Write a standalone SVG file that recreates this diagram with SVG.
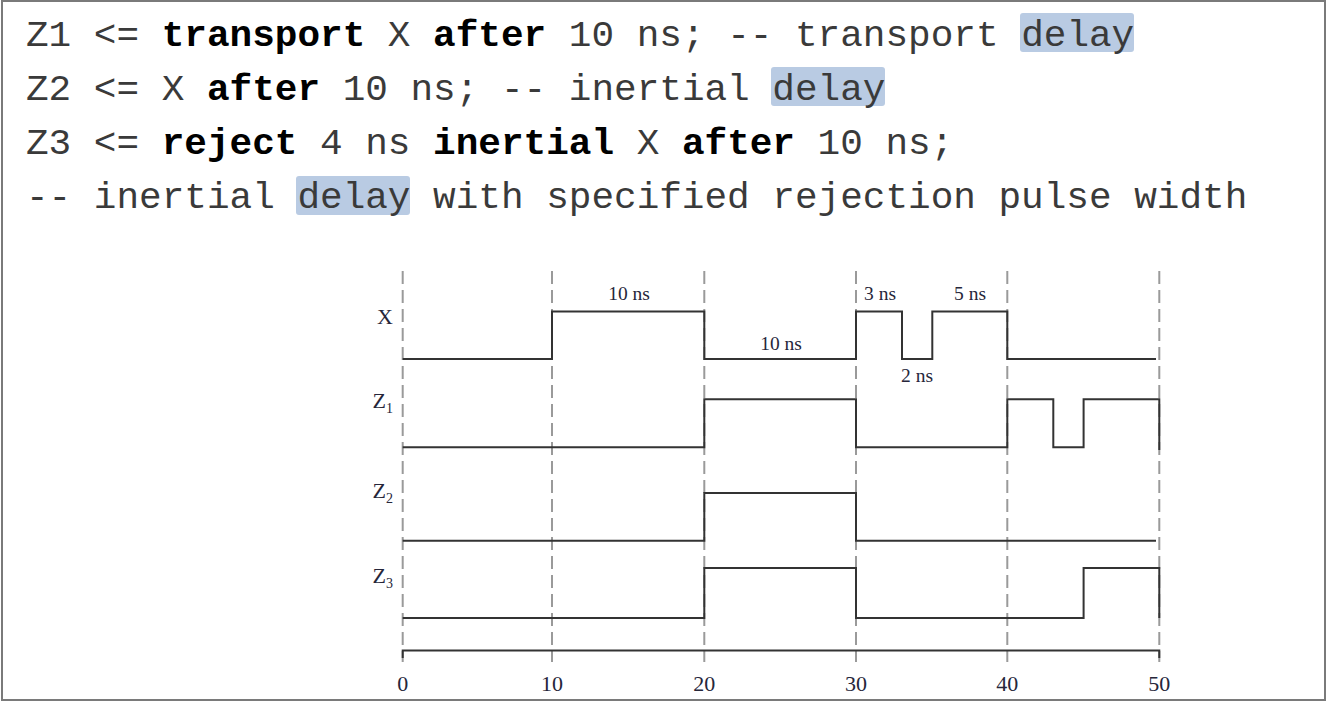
<svg xmlns="http://www.w3.org/2000/svg" width="1328" height="703" viewBox="0 0 1328 703">
<style>
.code{font-family:"Liberation Mono","Courier New",monospace;font-size:37.7px;fill:#3a3a3a}
.b{font-weight:bold;fill:#000}
.hl{fill:#b9cbe3}
.lbl{font-family:"Liberation Serif","Times New Roman",serif;fill:#26263a}
.ns{font-size:19.5px;text-anchor:middle}
.tick{font-size:22px;text-anchor:middle}
.sig{font-size:22px;text-anchor:end}
.grid{stroke:#9a9a9a;stroke-width:2;stroke-dasharray:13 6;fill:none}
.wave{stroke:#333;stroke-width:2;fill:none}
</style>
<rect x="0" y="0" width="1328" height="703" fill="#fff"/>
<rect x="2" y="1" width="1323" height="699" fill="none" stroke="#7a7a7a" stroke-width="2"/>
<g id="code">
<rect class="hl" x="1020" y="13" width="114" height="39" rx="3"/>
<rect class="hl" x="771" y="67" width="114" height="39" rx="3"/>
<rect class="hl" x="296" y="176" width="114" height="39" rx="3"/>
<text class="code" x="26" y="46" xml:space="preserve">Z1 &lt;= <tspan class="b">transport</tspan> X <tspan class="b">after</tspan> 10 ns; -- transport delay</text>
<text class="code" x="26" y="100" xml:space="preserve">Z2 &lt;= X <tspan class="b">after</tspan> 10 ns; -- inertial delay</text>
<text class="code" x="26" y="154" xml:space="preserve">Z3 &lt;= <tspan class="b">reject</tspan> 4 ns <tspan class="b">inertial</tspan> X <tspan class="b">after</tspan> 10 ns;</text>
<text class="code" x="26" y="208" xml:space="preserve">-- inertial delay with specified rejection pulse width</text>
</g>
<g id="grid">
<line class="grid" x1="402.7" y1="271" x2="402.7" y2="662"/>
<line class="grid" x1="552" y1="271" x2="552" y2="662"/>
<line class="grid" x1="704.3" y1="271" x2="704.3" y2="662"/>
<line class="grid" x1="856" y1="271" x2="856" y2="662"/>
<line class="grid" x1="1007.3" y1="271" x2="1007.3" y2="662"/>
<line class="grid" x1="1159.3" y1="271" x2="1159.3" y2="662"/>
</g>
<g id="waves">
<path id="X" class="wave" d="M402.7 359 H552 V311.5 H704.3 V359 H856 V311.5 H902 V359 H932.3 V311.5 H1007.3 V359 H1156"/>
<path id="Z1" class="wave" d="M402.7 447.3 H704.3 V399.3 H856 V447.3 H1007.3 V399.3 H1053.3 V447.3 H1083.6 V399.3 H1159.3 V450"/>
<path id="Z2" class="wave" d="M402.7 540.7 H704.3 V493 H856 V540.7 H1156"/>
<path id="Z3" class="wave" d="M402.7 618 H704.3 V568 H856 V618 H1083.6 V568 H1159.3 V618"/>
<path id="axis" class="wave" d="M402.7 658 V650.5 H1159.3 V658"/>
</g>
<g id="labels">
<text class="lbl sig" x="393" y="324">X</text>
<text class="lbl sig" x="393" y="408">Z<tspan font-size="14" dy="5">1</tspan></text>
<text class="lbl sig" x="393" y="498">Z<tspan font-size="14" dy="5">2</tspan></text>
<text class="lbl sig" x="393" y="583">Z<tspan font-size="14" dy="5">3</tspan></text>
<text class="lbl ns" x="629" y="300">10 ns</text>
<text class="lbl ns" x="781" y="350">10 ns</text>
<text class="lbl ns" x="880" y="300">3 ns</text>
<text class="lbl ns" x="970" y="300">5 ns</text>
<text class="lbl ns" x="917" y="382">2 ns</text>
<text class="lbl tick" x="402.7" y="691">0</text>
<text class="lbl tick" x="552" y="691">10</text>
<text class="lbl tick" x="704.3" y="691">20</text>
<text class="lbl tick" x="856" y="691">30</text>
<text class="lbl tick" x="1007.3" y="691">40</text>
<text class="lbl tick" x="1159.3" y="691">50</text>
</g>
</svg>
